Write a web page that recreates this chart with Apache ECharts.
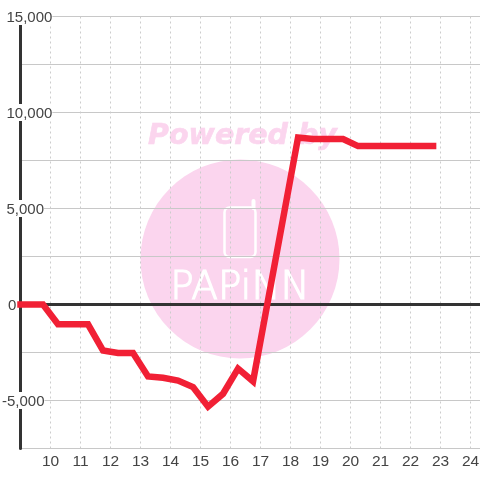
<!DOCTYPE html>
<html><head><meta charset="utf-8">
<style>html,body{margin:0;padding:0;background:#fff}#c{width:480px;height:480px}</style>
<script src="https://cdn.jsdelivr.net/npm/echarts@6/dist/echarts.min.js"></script>
</head><body><div id="c"></div>
<script>
const hours = [9,9.75,10.25,10.75,11.25,11.75,12.25,12.75,13.25,13.75,14.25,14.75,15.25,15.75,16.25,16.75,18.25,18.75,19.25,19.75,20.25,20.75,21.25,21.75,22.25,22.75];
const values = [0,0,-1030,-1030,-1030,-2400,-2520,-2520,-3750,-3820,-3960,-4300,-5320,-4650,-3340,-4000,8700,8620,8620,8620,8250,8250,8250,8250,8250,8250];
const zeroLine = [[9,0],[24.33,0]];
const watermarkTop = 'Powered by';
const watermarkBrand = 'PAPiNN';
const pink = '#fbd5ee';
const xFont = {color:'#444',fontSize:15.5,fontFamily:'"Liberation Sans"'};
const yFont = {color:'#444',fontSize:15,fontFamily:'"Liberation Sans"'};
const chart = echarts.init(document.getElementById('c'), null, {renderer:'canvas'});
chart.setOption({
  animation:false,
  backgroundColor:'#fff',
  grid:{left:20.5,right:-0.5,top:16.5,bottom:31.5,containLabel:false,outerBoundsMode:'none'},
  graphic:[
    {type:'circle',z:-10,shape:{cx:240,cy:259,r:99.5},style:{fill:pink}},
    {type:'text',z:-10,x:242.5,y:136.5,style:{text:watermarkTop,fill:pink,stroke:pink,lineWidth:0.6,font:'italic bold 28.5px "DejaVu Sans"',textAlign:'center',textVerticalAlign:'middle'}},
    {type:'rect',z:-9,shape:{x:224.5,y:207.5,width:31,height:49.5,r:5},style:{fill:'none',stroke:'#fff',lineWidth:2.5}},
    {type:'line',z:-9,shape:{x1:253.5,y1:208,x2:253.5,y2:201},style:{stroke:'#fff',lineWidth:4,lineCap:'round'}},
    {type:'text',z:-9,x:240,y:289,style:{text:watermarkBrand,fill:'#fff',stroke:'#fff',lineWidth:1.2,font:'200 39px "DejaVu Sans"',textAlign:'center',textVerticalAlign:'middle'}}
  ],
  xAxis:{type:'value',min:9,max:24.33,interval:1,
    axisLine:{show:false},axisTick:{show:false},
    axisLabel:Object.assign({margin:5,showMinLabel:false,showMaxLabel:false,
      formatter:v=>Number.isInteger(v)&&v>9?String(v):''},xFont),
    splitLine:{show:true,showMinLine:false,showMaxLine:false,lineStyle:{color:'#ccc',type:[2,3],width:1}}},
  yAxis:{type:'value',min:-7500,max:15000,interval:2500,
    axisLine:{show:true,onZero:false,lineStyle:{color:'#333',width:3}},axisTick:{show:false},
    axisLabel:Object.assign({inside:true,margin:-18.5,align:'left',backgroundColor:'#fff',
      formatter:v=>{
        if(v%5000!==0) return '';
        const s=v.toLocaleString('en-US');
        return v<0?'{n|'+s+'}':v===0?'{z|'+s+'}':'{p|'+s+'}';
      },
      rich:{
        n:Object.assign({padding:[2,0,0,0]},yFont),
        p:Object.assign({padding:[2,0,0,4.5]},yFont),
        z:Object.assign({padding:[2,0,0,6]},yFont)
      }},yFont),
    splitLine:{show:true,lineStyle:{color:'#c8c8c8',width:1}}},
  series:[
    {type:'line',z:3,data:zeroLine,symbol:'none',silent:true,clip:false,lineStyle:{color:'#333',width:3}},
    {type:'line',z:5,data:hours.map((h,i)=>[h,values[i]]),symbol:'none',clip:false,
      lineStyle:{color:'#f12035',width:6.5,cap:'square',join:'miter'}}
  ]
});
</script></body></html>
